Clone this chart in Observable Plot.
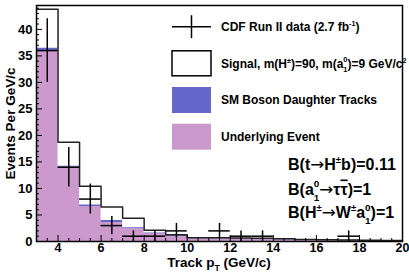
<!DOCTYPE html>
<html><head><meta charset="utf-8">
<script src="https://cdn.jsdelivr.net/npm/d3@7"></script>
<script src="https://cdn.jsdelivr.net/npm/@observablehq/plot@0.6"></script>
<style>html,body{margin:0;padding:0;background:#fff;} #chart svg{display:block;}</style>
</head><body><div id="chart"></div>
<script>
// ---- data ----
const binLow  = [3, 4, 5, 6, 7, 8, 9, 10, 11, 12, 13, 14, 15, 16, 17, 18, 19];
const binHigh = [4, 5, 6, 7, 8, 9, 10, 11, 12, 13, 14, 15, 16, 17, 18, 19, 20];
const underlyingEvent = [36.0, 14.0, 6.6, 3.6, 2.4, 1.45, 0.95, 0.5, 0.45, 0.42, 0.38, 0.33, 0.28, 0.24, 0.2, 0.17, 0.14];
const smBosonTracks   = [0.45, 0.2, 0.3, 0.35, 0.2, 0.17, 0.18, 0.13, 0.1, 0.08, 0.07, 0.06, 0.05, 0.04, 0.03, 0.03, 0.02];
const signalTracks    = [7.35, 4.5, 3.5, 2.55, 1.8, 0.48, 0.13, 0.07, 0.15, 0.15, 0.15, 0.11, 0.05, 0.05, 0.04, 0.03, 0.03];
const dataCounts = [36, 14, 8, 3, 1, 1, 2, 0, 2, 1, 1, 0, 0, 0, 1, 0, 0];
const dataErrors = [6, 3.74, 2.83, 1.73, 1, 1, 1.41, 0, 1.41, 1, 1, 0, 0, 0, 1, 0, 0];
const xMajorTicks = [4, 6, 8, 10, 12, 14, 16, 18, 20];
const xMinorTicks = [3, 3.5, 4.5, 5, 5.5, 6.5, 7, 7.5, 8.5, 9, 9.5, 10.5, 11, 11.5, 12.5, 13, 13.5, 14.5, 15, 15.5, 16.5, 17, 17.5, 18.5, 19, 19.5];
const yMajorTicks = [0, 5, 10, 15, 20, 25, 30, 35, 40];
const yMinorTicks = [1,2,3,4,6,7,8,9,11,12,13,14,16,17,18,19,21,22,23,24,26,27,28,29,31,32,33,34,36,37,38,39,41,42,43,44];

const PINK = "#cc99cc", BLUE = "#6666cc";
const FONT = "'Liberation Sans', Arial, Helvetica, sans-serif";

// build tables
const rows = binLow.map((lo, i) => {
  const ue = underlyingEvent[i], bg = ue + smBosonTracks[i];
  return {lo, hi: binHigh[i], mid: (lo + binHigh[i]) / 2, ue, bg, tot: bg + signalTracks[i], n: dataCounts[i], e: dataErrors[i]};
});
const last = rows[rows.length - 1];
const steps = rows.map(r => ({x: r.lo, ue: r.ue, bg: r.bg, tot: r.tot}))
  .concat([{x: last.hi, ue: last.ue, bg: last.bg, tot: last.tot}]);
const obs = rows.filter(r => r.n > 0);

const chart = Plot.plot({
  width: 409, height: 277,
  marginLeft: 36, marginRight: 7, marginTop: 5, marginBottom: 36,
  x: {domain: [3, 20], label: null},
  y: {domain: [0, 44.5], label: null},
  style: {fontFamily: FONT, fontWeight: "bold", background: "white", color: "black"},
  marks: [
    Plot.areaY(steps, {x: "x", y1: 0, y2: "ue", curve: "step-after", fill: PINK}),
    Plot.areaY(steps, {x: "x", y1: "ue", y2: "bg", curve: "step-after", fill: BLUE}),
    Plot.line(steps, {x: "x", y: "tot", curve: "step-after", stroke: "#222", strokeWidth: 1.5}),
    Plot.ruleY(obs, {y: "n", x1: "lo", x2: "hi", stroke: "black", strokeWidth: 1.5}),
    Plot.ruleX(obs, {x: "mid", y1: r => r.n - r.e, y2: r => r.n + r.e, stroke: "black", strokeWidth: 1.5}),
    Plot.axisY(yMajorTicks, {tickSize: -6, tickFormat: () => "", label: null, stroke: "black"}),
    Plot.axisY(yMinorTicks, {tickSize: -3, tickFormat: () => "", label: null, stroke: "black"}),
    Plot.axisX(xMajorTicks, {tickSize: -6, tickFormat: () => "", label: null, stroke: "black"}),
    Plot.axisX(xMinorTicks, {tickSize: -3, tickFormat: () => "", label: null, stroke: "black"}),
    Plot.axisY(yMajorTicks, {tickSize: 0, tickPadding: 4, fontSize: 13, label: null, fill: "black"}),
    Plot.axisX(xMajorTicks, {tickSize: 0, tickPadding: 2, fontSize: 12.5, label: null, fill: "black"}),
    Plot.frame({stroke: "black", strokeWidth: 1.5})
  ]
});
document.getElementById("chart").appendChild(chart);

// ---- rich text helper (sub/superscripts, arrows, overline) ----
function rich(g, x, y, parts, fs, anchor) {
  const text = g.append("text").attr("x", x).attr("y", y).attr("font-size", fs)
    .attr("text-anchor", anchor || "start").attr("fill", "black");
  let off = 0;
  for (const p of parts) {
    if (typeof p === "string") {
      text.append("tspan").attr("dy", -off).text(p); off = 0;
    } else if (p.arrow) {
      text.append("tspan").attr("dy", -off).attr("font-family", "'DejaVu Sans', sans-serif")
        .attr("font-weight", "normal").attr("font-size", fs * 1.05).text(p.arrow); off = 0;
    } else if (p.over) {
      text.append("tspan").attr("dy", -off).style("text-decoration", "overline").text(p.over); off = 0;
    } else if (p.sup !== undefined && p.sub !== undefined) {
      const up = -0.45 * fs, down = 0.4 * fs;
      const s1 = text.append("tspan").attr("font-size", 0.62 * fs).attr("dy", up - off).text(p.sup);
      const w = s1.node().getComputedTextLength();
      text.append("tspan").attr("font-size", 0.62 * fs).attr("dx", -w).attr("dy", down - up).text(p.sub);
      off = down;
    } else if (p.sup !== undefined) {
      const up = -0.42 * fs;
      text.append("tspan").attr("font-size", 0.6 * fs).attr("dy", up - off).text(p.sup); off = up;
    } else if (p.sub !== undefined) {
      const down = 0.3 * fs;
      text.append("tspan").attr("font-size", 0.65 * fs).attr("dy", down - off).text(p.sub); off = down;
    }
  }
  return text;
}

const svg = d3.select(chart);
const g = svg.append("g").attr("font-family", FONT).attr("font-weight", "bold");

// axis titles
rich(g, 219, 266.5, ["Track p", {sub: "T"}, " (GeV/c)"], 13.5, "middle");
rich(g.append("g").attr("transform", "translate(15,123.5) rotate(-90)"), 0, 0, ["Events Per GeV/c"], 13.5, "middle");

// legend
const L = g.append("g");
const lx0 = 172, lx1 = 211, tx = 221, lfs = 12;
const rowsY = [26.7, 63.3, 100, 136.7];
L.append("line").attr("x1", lx0).attr("x2", lx1).attr("y1", rowsY[0]).attr("y2", rowsY[0]).attr("stroke", "black").attr("stroke-width", 1.5);
L.append("line").attr("x1", (lx0 + lx1) / 2).attr("x2", (lx0 + lx1) / 2).attr("y1", rowsY[0] - 11.5).attr("y2", rowsY[0] + 11.5).attr("stroke", "black").attr("stroke-width", 1.5);
L.append("rect").attr("x", lx0).attr("y", rowsY[1] - 12.5).attr("width", lx1 - lx0).attr("height", 25).attr("fill", "white").attr("stroke", "black").attr("stroke-width", 1.5);
L.append("rect").attr("x", lx0).attr("y", rowsY[2] - 13).attr("width", lx1 - lx0).attr("height", 26).attr("fill", BLUE);
L.append("rect").attr("x", lx0).attr("y", rowsY[3] - 13).attr("width", lx1 - lx0).attr("height", 26).attr("fill", PINK);
rich(L, tx, rowsY[0] + 0.36 * lfs, ["CDF Run II data (2.7 fb", {sup: "-1"}, ")"], lfs);
rich(L, tx, rowsY[1] + 0.36 * lfs, ["Signal, m(H", {sup: "±"}, ")=90, m(a", {sup: "0", sub: "1"}, ")=9 GeV/c", {sup: "2"}], lfs);
rich(L, tx, rowsY[2] + 0.36 * lfs, ["SM Boson Daughter Tracks"], lfs);
rich(L, tx, rowsY[3] + 0.36 * lfs, ["Underlying Event"], lfs);

// branching-ratio annotation
const A = g.append("g");
const afs = 16, ax = 288;
rich(A, ax, 170, ["B(t", {arrow: "→"}, "H", {sup: "±"}, "b)=0.11"], afs);
rich(A, ax, 194.5, ["B(a", {sup: "0", sub: "1"}, {arrow: "→"}, "τ", {over: "τ"}, ")=1"], afs);
rich(A, ax, 218, ["B(H", {sup: "±"}, {arrow: "→"}, "W", {sup: "±"}, "a", {sup: "0", sub: "1"}, ")=1"], afs);
</script>
</body></html>
